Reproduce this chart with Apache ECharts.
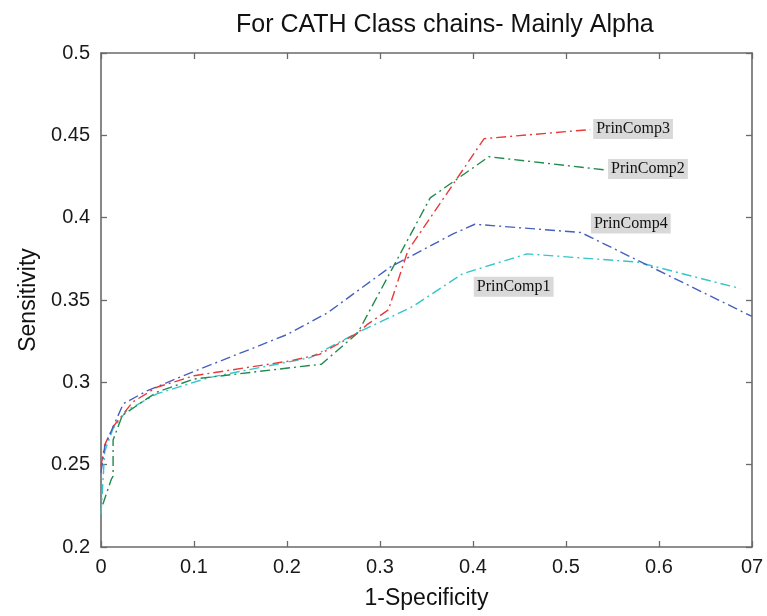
<!DOCTYPE html>
<html>
<head>
<meta charset="utf-8">
<title>For CATH Class chains- Mainly Alpha</title>
<script src="https://cdn.jsdelivr.net/npm/echarts@6/dist/echarts.min.js"></script>
<style>
  html, body { margin: 0; padding: 0; background: #fff; }
  #chart { width: 767px; height: 616px; }
</style>
</head>
<body>
<div id="chart"></div>
<script>
// ROC-style curves: sensitivity against 1-specificity for four principal components
const titleText = 'For CATH Class chains- Mainly Alpha';
const xName = '1-Specificity';
const yName = 'Sensitivity';
const xTickLabels = ['0', '0.1', '0.2', '0.3', '0.4', '0.5', '0.6', '07'];
const yTickLabels = ['0.2', '0.25', '0.3', '0.35', '0.4', '0.45', '0.5'];
const seriesNames = ['PrinComp1', 'PrinComp2', 'PrinComp3', 'PrinComp4'];

const prinComp1 = [
  [0, 0.220], [0.004, 0.258], [0.013, 0.272], [0.028, 0.283], [0.06, 0.293],
  [0.117, 0.303], [0.225, 0.315], [0.275, 0.330], [0.313, 0.340], [0.335, 0.346],
  [0.389, 0.366], [0.458, 0.378], [0.577, 0.373], [0.687, 0.357]
];
const prinComp2 = [
  [0.002, 0.226], [0.011, 0.241], [0.013, 0.243], [0.013, 0.265], [0.023, 0.280],
  [0.06, 0.294], [0.10, 0.302], [0.206, 0.309], [0.237, 0.311], [0.276, 0.330],
  [0.354, 0.412], [0.417, 0.437], [0.542, 0.429]
];
const prinComp3 = [
  [0, 0.249], [0.004, 0.262], [0.013, 0.273], [0.034, 0.288], [0.06, 0.297],
  [0.10, 0.304], [0.203, 0.313], [0.235, 0.317], [0.276, 0.330], [0.286, 0.335],
  [0.309, 0.344], [0.33, 0.380], [0.412, 0.448], [0.526, 0.4535]
];
const prinComp4 = [
  [0, 0.245], [0.004, 0.261], [0.013, 0.273], [0.024, 0.287], [0.05, 0.295],
  [0.106, 0.308], [0.16, 0.320], [0.20, 0.329], [0.243, 0.342], [0.311, 0.370],
  [0.378, 0.390], [0.402, 0.396], [0.516, 0.391], [0.70, 0.340]
];

// index of the point each curve's name tag hangs from
const tagAnchorIndex = [10, prinComp2.length - 1, prinComp3.length - 1, 12];

const seriesData = [prinComp1, prinComp2, prinComp3, prinComp4];
const colors = ['#36c6c8', '#1f8a4c', '#e83a3a', '#4660bd'];
const tagOffsets = [[8, 13], [0, -1], [0, -0.5], [7, -9]];

const chart = echarts.init(document.getElementById('chart'), null, { renderer: 'canvas' });

const frameLine = { show: true, onZero: false, lineStyle: { color: '#6a6a6a', width: 1.6 } };
const innerTick = { show: true, inside: true, length: 6, lineStyle: { color: '#6a6a6a', width: 1.3 } };
const tickFont = { fontFamily: 'Liberation Sans', fontSize: 20, color: '#1a1a1a' };

const xBase = { type: 'value', min: 0, max: 0.7, interval: 0.1, splitLine: { show: false }, axisLine: frameLine, axisTick: innerTick };
const yBase = { type: 'value', min: 0.2, max: 0.5, interval: 0.05, splitLine: { show: false }, axisLine: frameLine, axisTick: innerTick };

const option = {
  backgroundColor: '#ffffff',
  animation: false,
  title: {
    text: titleText,
    left: 231,
    top: 8,
    textStyle: { fontFamily: 'Liberation Sans', fontSize: 25, fontWeight: 'normal', color: '#111' }
  },
  grid: { left: 101, right: 15, top: 53, bottom: 69, containLabel: false },
  xAxis: [
    Object.assign({}, xBase, {
      position: 'bottom',
      name: xName,
      nameLocation: 'middle',
      nameGap: 40,
      nameTextStyle: { fontFamily: 'Liberation Sans', fontSize: 23, color: '#111' },
      axisLabel: Object.assign({ margin: 10, formatter: v => xTickLabels[Math.round(v / 0.1)] }, tickFont)
    }),
    Object.assign({}, xBase, { position: 'top', axisLabel: { show: false } })
  ],
  yAxis: [
    Object.assign({}, yBase, {
      position: 'left',
      name: yName,
      nameLocation: 'middle',
      nameGap: 61,
      nameTextStyle: { fontFamily: 'Liberation Sans', fontSize: 23, color: '#111' },
      axisLabel: Object.assign({ margin: 11, formatter: v => yTickLabels[Math.round((v - 0.2) / 0.05)] }, tickFont)
    }),
    Object.assign({}, yBase, { position: 'right', axisLabel: { show: false } })
  ],
  series: seriesData.map((data, i) => ({
    name: seriesNames[i],
    type: 'line',
    data: data,
    showSymbol: false,
    symbol: 'none',
    smooth: false,
    lineStyle: { color: colors[i], width: 1.4, type: [10, 4, 2, 4] },
    markPoint: {
      symbol: 'circle',
      symbolSize: 0,
      data: [{ coord: data[tagAnchorIndex[i]] }],
      label: {
        show: true,
        formatter: seriesNames[i],
        position: 'right',
        distance: 3,
        offset: tagOffsets[i],
        align: 'left',
        verticalAlign: 'middle',
        fontFamily: 'Liberation Serif',
        fontSize: 16,
        color: '#111',
        backgroundColor: '#d9d9d9',
        padding: [2, 3, 2, 3]
      }
    }
  }))
};

chart.setOption(option);
</script>
</body>
</html>
